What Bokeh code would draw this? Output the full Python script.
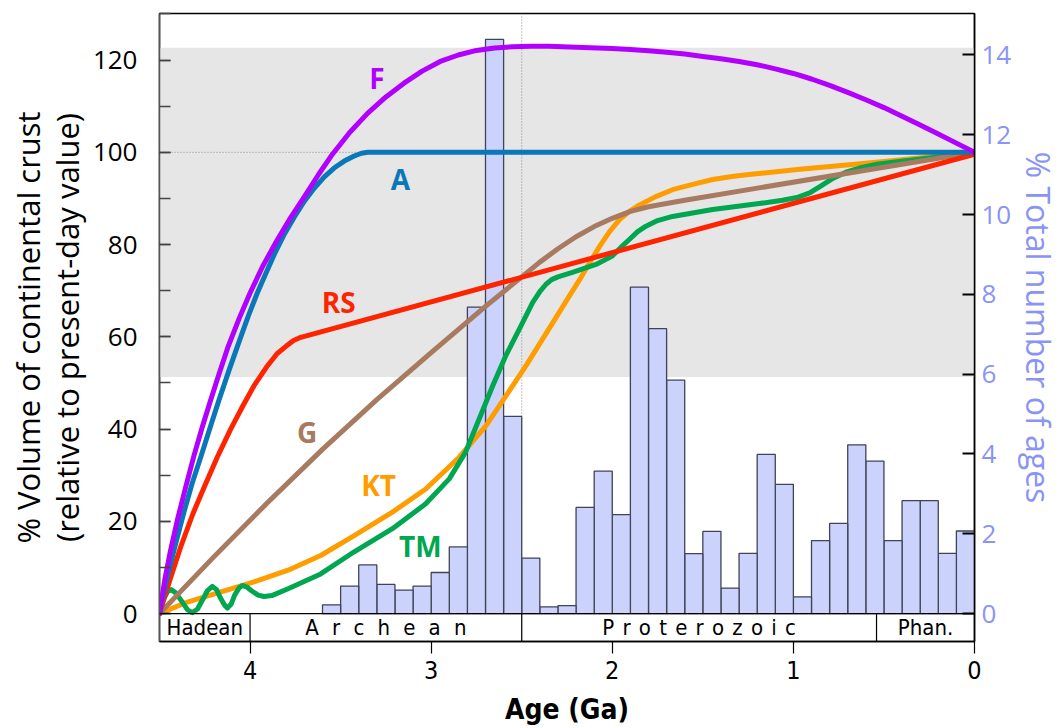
from bokeh.plotting import figure
from bokeh.models import Range1d, LinearAxis, SingleIntervalTicker, FixedTicker, Span, BoxAnnotation
from bokeh.embed import file_html
from bokeh.resources import INLINE
from bokeh.core.properties import value

# ---------------- data ----------------
# histogram of ages: bins of 0.1 Ga (bin start, Ga) and % total number of ages
bin_start = [0.0, 0.1, 0.2, 0.3, 0.4, 0.5, 0.6, 0.7, 0.8, 0.9,
             1.0, 1.1, 1.2, 1.3, 1.4, 1.5, 1.6, 1.7, 1.8, 1.9,
             2.0, 2.1, 2.2, 2.3, 2.4, 2.5, 2.6, 2.7, 2.8, 2.9,
             3.0, 3.1, 3.2, 3.3, 3.4, 3.5]
pct_ages = [2.07, 1.51, 2.83, 2.83, 1.83, 3.82, 4.23, 2.26, 1.83, 0.42,
            3.24, 3.99, 1.51, 0.64, 2.06, 1.50, 5.85, 7.14, 8.18, 2.48,
            3.57, 2.66, 0.20, 0.17, 1.39, 4.94, 14.39, 7.68, 1.67, 1.03,
            0.69, 0.59, 0.73, 1.22, 0.69, 0.22]
bin_width = 0.1

# crustal growth curves: age (Ga) and % volume of continental crust
F_age = [4.5, 4.47, 4.44, 4.40, 4.355, 4.31, 4.265, 4.22, 4.17, 4.12, 4.06, 4.0, 3.93,
         3.85, 3.775, 3.70, 3.62, 3.545, 3.45, 3.35, 3.25, 3.15, 3.05, 2.95, 2.85, 2.75,
         2.65, 2.55, 2.45, 2.35, 2.2, 2.0, 1.9, 1.8, 1.7, 1.6, 1.5, 1.4, 1.3, 1.2, 1.1,
         1.0, 0.9, 0.8, 0.7, 0.6, 0.5, 0.4, 0.3, 0.2, 0.1, 0.0]
F_val = [0.0, 7.5, 13.5, 20.5, 27.5, 34.2, 40.3, 46.0, 52.1, 58.0, 64.0, 69.5, 75.3,
         81.0, 85.9, 90.4, 95.3, 99.6, 104.3, 108.5, 112.0, 115.0, 117.6, 119.7, 121.1, 122.1,
         122.6, 122.9, 123.0, 123.0, 122.8, 122.5, 122.3, 122.0, 121.7, 121.3, 120.8, 120.3,
         119.7, 119.0, 118.1, 117.1, 115.9, 114.5, 113.0, 111.4, 109.7, 107.8, 105.9, 104.0,
         102.0, 100.0]

A_age = [4.5, 4.455, 4.41, 4.365, 4.32, 4.27, 4.22, 4.17, 4.115, 4.06, 4.01, 3.96, 3.91,
         3.867, 3.81, 3.757, 3.70, 3.646, 3.59, 3.536, 3.48, 3.425, 3.385, 3.35, 0.0]
A_val = [0.0, 8.3, 15.3, 22.0, 28.2, 34.2, 40.4, 46.5, 52.9, 59.0, 64.5, 69.5, 74.0,
         77.8, 82.3, 85.9, 89.4, 92.2, 94.7, 96.6, 98.1, 99.2, 99.8, 100.0, 100.0]

RS_age = [4.5, 4.44, 4.38, 4.315, 4.25, 4.18, 4.107, 4.04, 3.978, 3.91, 3.85, 3.80, 3.76,
          3.72, 0.0]
RS_val = [0.0, 7.6, 14.8, 21.7, 27.7, 34.0, 40.0, 45.0, 49.4, 53.4, 56.4, 58.0, 59.2,
          59.9, 99.6]

G_age = [4.5, 4.2, 3.9, 3.6, 3.3, 3.0, 2.7, 2.5, 2.4, 2.30, 2.20, 2.10, 2.00, 1.90,
         1.80, 1.70, 1.60, 1.19, 0.0]
G_val = [0.0, 12.3, 24.2, 35.6, 46.4, 56.6, 66.6, 73.0, 76.2, 79.1, 81.7, 83.9, 85.7, 87.2,
         88.2, 88.9, 89.6, 92.3, 100.0]

KT_age = [4.5, 4.346, 4.16, 3.978, 3.79, 3.61, 3.425, 3.214, 3.03, 2.845, 2.698, 2.587,
          2.477, 2.385, 2.293, 2.235, 2.18, 2.125, 2.07, 2.015, 1.96, 1.905, 1.85, 1.76,
          1.667, 1.55, 1.446, 1.33, 1.22, 0.95, 0.69, 0.50, 0.322, 0.16, 0.0]
KT_val = [0.0, 2.5, 4.7, 6.9, 9.4, 12.6, 16.9, 22.0, 27.0, 33.9, 40.7, 47.2,
          53.7, 59.5, 65.3, 69.0, 72.4, 76.1, 79.6, 82.8, 85.4, 87.2, 88.6, 90.4,
          91.9, 93.1, 94.1, 94.8, 95.3, 96.4, 97.3, 98.0, 98.7, 99.3, 100.0]

TM_age = [4.50, 4.48, 4.455, 4.436, 4.41, 4.378, 4.345, 4.319, 4.29, 4.262, 4.235, 4.208,
          4.185, 4.165, 4.14, 4.125, 4.105, 4.085, 4.06, 4.043, 4.02, 3.99, 3.955, 3.923,
          3.88, 3.79, 3.61, 3.425, 3.214, 3.03, 2.90, 2.81, 2.735, 2.66, 2.587, 2.514,
          2.44, 2.40, 2.366, 2.335, 2.30, 2.26, 2.22, 2.09, 2.00, 1.95, 1.906, 1.86, 1.814,
          1.75, 1.667, 1.446, 1.188, 1.06, 0.98, 0.91, 0.845, 0.78, 0.71, 0.635, 0.53,
          0.414, 0.20, 0.0]
TM_val = [0.0, 3.0, 4.8, 5.2, 4.5, 2.7, 0.8, 0.2, 1.0, 3.0, 5.0, 5.9,
          5.2, 3.5, 1.8, 1.2, 2.0, 4.0, 5.6, 6.1, 5.8, 4.9, 4.0, 3.7,
          3.9, 5.4, 8.6, 13.4, 18.4, 23.8, 29.2, 35.0, 42.2, 49.4, 56.0, 61.6,
          67.4, 69.8, 71.4, 72.4, 73.0, 73.5, 74.0, 75.7, 77.5, 79.5, 81.1, 82.8, 84.0,
          85.2, 86.1, 87.6, 88.9, 89.6, 90.2, 91.2, 92.8, 94.4, 95.7, 96.6, 97.5,
          98.0, 99.0, 100.0]

curve_names = ["F", "A", "RS", "G", "KT", "TM"]
curve_colors = ["#b200ff", "#0a77b9", "#ff2400", "#a87a60", "#ff9c00", "#00a650"]
label_age = [3.30, 3.17, 3.51, 3.685, 3.29, 3.06]
label_val = [116.2, 94.3, 67.5, 39.4, 27.9, 14.7]

# eons (letter-spaced names as in the original)
eon_names = ["Hadean",
             "\u2002\u2006".join("Archean"),
             " \u200a".join("Proterozoic"),
             "Phan."]
eon_start = [4.5, 4.0, 2.5, 0.541]
eon_end = [4.0, 2.5, 0.541, 0.0]

xticks = [0, 1, 2, 3, 4]
band_bottom, band_top = 51.3, 122.7
present_day = 100
archean_end = 2.5

x_lo, x_hi = 4.5, 0.0
y_lo, y_hi = -6.05, 130.1
r_lo, r_hi = -0.7, 15.04

blue_txt = "#8a94f5"
narrow = "'Liberation Sans Narrow', 'DejaVu Sans Condensed', Roboto, sans-serif"

# ---------------- figure ----------------
p = figure(width=1063, height=728, x_range=Range1d(x_lo, x_hi), y_range=Range1d(y_lo, y_hi),
           output_backend="svg", toolbar_location=None,
           min_border_left=159, min_border_right=88, min_border_top=13, min_border_bottom=85)
p.extra_y_ranges = {"ages": Range1d(r_lo, r_hi)}
p.grid.visible = False
p.outline_line_color = "black"
p.outline_line_width = 1.5
p.background_fill_color = "white"
p.border_fill_color = "white"

# grey band and dotted reference lines
p.add_layout(BoxAnnotation(bottom=band_bottom, top=band_top, fill_color="#e6e6e6", fill_alpha=1.0,
                           line_alpha=0, level="underlay"))
p.add_layout(Span(location=present_day, dimension="width", line_color="#8a8a8a", line_width=1,
                  line_dash="1 2", level="underlay"))
p.add_layout(Span(location=archean_end, dimension="height", line_color="#8a8a8a", line_width=1,
                  line_dash="1 2", level="underlay"))

# histogram bars
centers = [b + bin_width / 2 for b in bin_start]
p.vbar(x=centers, width=bin_width, top=pct_ages, bottom=0, y_range_name="ages",
       fill_color="#cbd2fc", line_color="#3f4458", line_width=1.3)

# curves
order = [("KT", KT_age, KT_val), ("TM", TM_age, TM_val), ("G", G_age, G_val),
         ("RS", RS_age, RS_val), ("A", A_age, A_val), ("F", F_age, F_val)]
for name, ax, ay in order:
    c = curve_colors[curve_names.index(name)]
    p.line(ax, ay, line_color=c, line_width=5, line_join="round", line_cap="round")

p.text(x=label_age, y=label_val, text=curve_names, text_color=curve_colors,
       text_font=value("Open Sans"), text_font_style="bold", text_font_size="28px",
       text_align="center", text_baseline="middle")

# eon strip
p.add_layout(Span(location=0, dimension="width", line_color="black", line_width=1.2))
p.segment(x0=eon_start[1:], y0=[y_lo] * 3, x1=eon_start[1:], y1=[0] * 3,
          line_color="black", line_width=1.2)
eon_mid = [(a + b) / 2 for a, b in zip(eon_start, eon_end)]
p.text(x=eon_mid, y=[y_lo / 2] * len(eon_mid), text=eon_names, text_color="black",
       text_font=value(narrow), text_font_size="22px",
       text_align="center", text_baseline="middle")

# left axis
ya = p.yaxis[0]
ya.ticker = SingleIntervalTicker(interval=20, num_minor_ticks=2)
ya.major_tick_in = 11
ya.major_tick_out = 0
ya.minor_tick_in = 11
ya.minor_tick_out = 0
ya.major_tick_line_color = "#444444"
ya.minor_tick_line_color = "#444444"
ya.major_tick_line_width = 1.5
ya.minor_tick_line_width = 1.5
ya.axis_line_color = "#555555"
ya.axis_line_width = 1.5
ya.major_label_text_font = "Open Sans"
ya.major_label_text_font_size = "26px"
ya.major_label_text_color = "black"
ya.major_label_standoff = 22
ya.axis_label = "% Volume of continental crust\n(relative to present-day value)"
ya.axis_label_text_font = "Open Sans"
ya.axis_label_text_font_size = "31px"
ya.axis_label_text_line_height = 0.92
ya.axis_label_text_font_style = "normal"
ya.axis_label_text_color = "black"
ya.axis_label_standoff = 2

# right axis
ra = LinearAxis(y_range_name="ages", ticker=SingleIntervalTicker(interval=2, num_minor_ticks=0))
ra.major_tick_in = 12
ra.major_tick_out = 0
ra.minor_tick_in = 0
ra.minor_tick_out = 0
ra.major_tick_line_color = "black"
ra.major_tick_line_width = 2
ra.axis_line_color = "black"
ra.axis_line_width = 1.5
ra.major_label_text_font = "Open Sans"
ra.major_label_text_font_size = "26px"
ra.major_label_text_color = blue_txt
ra.major_label_standoff = 7
ra.axis_label = "% Total number of ages"
ra.axis_label_text_font = "Open Sans"
ra.axis_label_text_font_size = "32px"
ra.axis_label_text_line_height = 1.0
ra.axis_label_text_font_style = "normal"
ra.axis_label_text_color = blue_txt
ra.axis_label_standoff = 3
p.add_layout(ra, "right")

# bottom axis
xa = p.xaxis[0]
xa.ticker = FixedTicker(ticks=xticks)
xa.major_tick_in = 0
xa.major_tick_out = 12
xa.minor_tick_in = 0
xa.minor_tick_out = 0
xa.major_tick_line_color = "black"
xa.major_tick_line_width = 1.2
xa.axis_line_color = "black"
xa.axis_line_width = 1.5
xa.major_label_text_font = narrow
xa.major_label_text_font_size = "25px"
xa.major_label_text_line_height = 1.0
xa.major_label_text_color = "black"
xa.major_label_standoff = 7
xa.axis_label = "Age (Ga)"
xa.axis_label_text_font = narrow
xa.axis_label_text_font_size = "28px"
xa.axis_label_text_line_height = 1.0
xa.axis_label_text_font_style = "bold"
xa.axis_label_text_color = "black"
xa.axis_label_standoff = 11

open("out.html", "w").write(file_html(p, INLINE))
